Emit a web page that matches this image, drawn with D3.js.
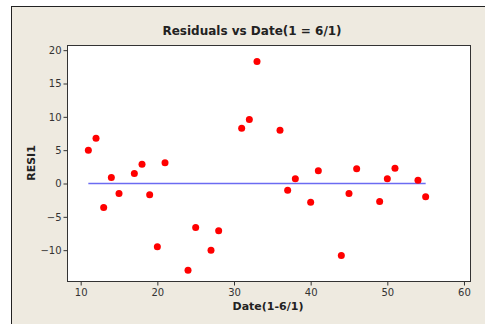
<!DOCTYPE html>
<html><head><meta charset="utf-8">
<script src="https://cdn.jsdelivr.net/npm/d3@7"></script>
<style>body{margin:0;background:#fff;}svg{display:block;}</style>
</head><body>
<script>
const dates = [11,12,13,14,15,17,18,19,20,21,24,25,27,28,31,32,33,36,37,38,40,41,44,45,46,49,50,51,54,55];
const resid = [5.0,6.8,-3.6,0.9,-1.5,1.5,2.9,-1.7,-9.5,3.1,-13.0,-6.6,-10.0,-7.1,8.3,9.6,18.3,8.0,-1.0,0.7,-2.8,1.9,-10.8,-1.5,2.2,-2.7,0.7,2.3,0.5,-2.0];
const xTicks = [10,20,30,40,50,60];
const yTicks = [-10,-5,0,5,10,15,20];
const refLine = [[11,0],[55,0]];

const W=485,H=324;
const svg=d3.select("body").append("svg").attr("width",W).attr("height",H);
svg.append("rect").attr("width",W).attr("height",H).attr("fill","#fff");
svg.append("rect").attr("x",11.5).attr("y",6.5).attr("width",W).attr("height",H)
  .attr("fill","#EEEAE0").attr("stroke","#222").attr("stroke-width",1);

const L=67.5,T=45.5,R=470.5,B=281.5;
const x=d3.scaleLinear().domain([8.28,60.85]).range([L,R]);
const y=d3.scaleLinear().domain([-14.7,20.7]).range([B,T]);

svg.append("rect").attr("x",L).attr("y",T).attr("width",R-L).attr("height",B-T)
  .attr("fill","#fff").attr("stroke","#333").attr("stroke-width",1);

const font="'DejaVu Sans', Verdana, sans-serif";
const xa=svg.append("g").attr("transform",`translate(0,${B})`)
  .call(d3.axisBottom(x).tickValues(xTicks).tickSize(4).tickPadding(3).tickFormat(d3.format("d")));
const ya=svg.append("g").attr("transform",`translate(${L},0)`)
  .call(d3.axisLeft(y).tickValues(yTicks).tickSize(4).tickPadding(2).tickFormat(d3.format("d")));
[xa,ya].forEach(a=>{
  a.select(".domain").remove();
  a.selectAll("line").attr("stroke","#333");
  a.selectAll("text").attr("fill","#333").style("font-family",font).style("font-size","10px");
});

svg.append("path").datum(refLine)
  .attr("d",d3.line().x(d=>x(d[0])).y(d=>y(d[1])))
  .attr("stroke","#6B6BF2").attr("stroke-width",1.4).attr("fill","none");

svg.append("g").selectAll("circle").data(dates.map((d,i)=>[d,resid[i]])).join("circle")
  .attr("cx",d=>x(d[0])).attr("cy",d=>y(d[1])).attr("r",3.5).attr("fill","#F00");

svg.append("text").attr("x",252).attr("y",35).attr("text-anchor","middle")
  .style("font-family",font).style("font-size","12px").style("font-weight","bold").attr("fill","#222")
  .text("Residuals vs Date(1 = 6/1)");
svg.append("text").attr("x",268).attr("y",310).attr("text-anchor","middle")
  .style("font-family",font).style("font-size","11px").style("font-weight","bold").attr("fill","#222")
  .text("Date(1-6/1)");
svg.append("text").attr("transform","translate(35,163) rotate(-90)").attr("text-anchor","middle")
  .style("font-family",font).style("font-size","11px").style("font-weight","bold").attr("fill","#222")
  .text("RESI1");
</script>
</body></html>
